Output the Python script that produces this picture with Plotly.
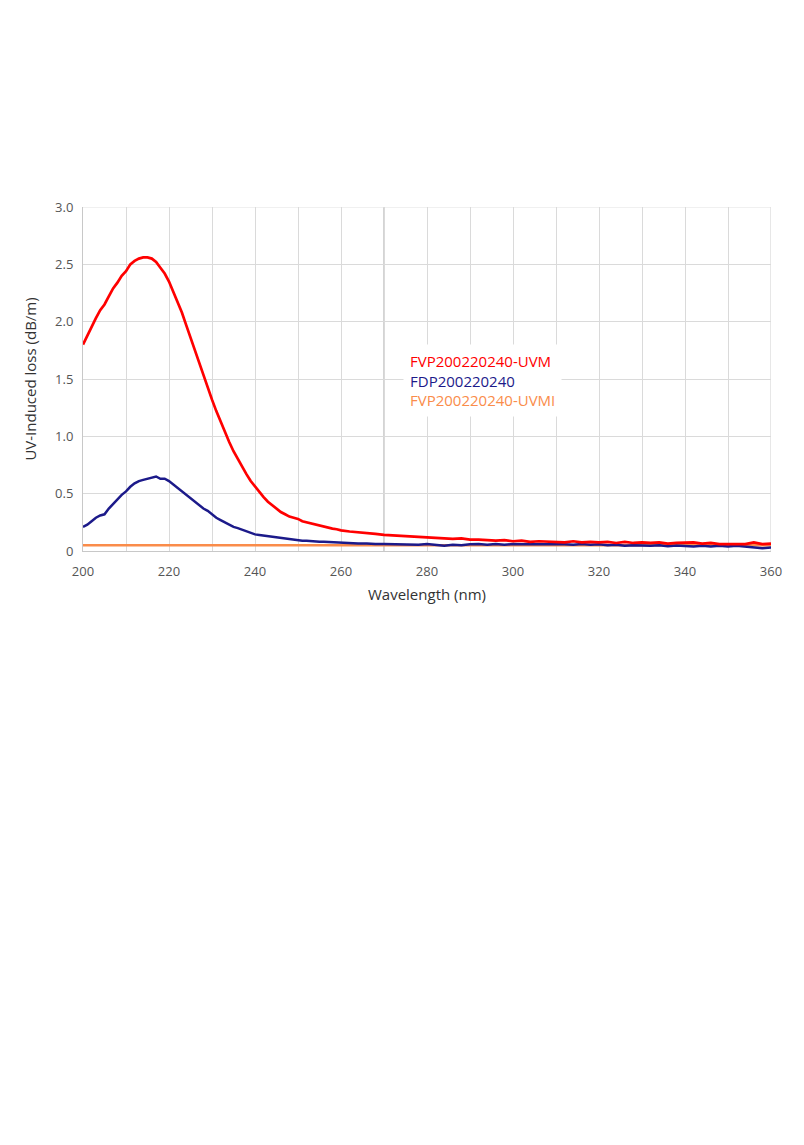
import plotly.graph_objs as go

# wavelengths (nm): 1 nm steps over the peak, 2 nm steps over the tail
wl_peak = list(range(200, 261))
wl_tail = list(range(262, 361, 2))
wavelength = wl_peak + wl_tail

uvm_loss = [
    1.80, 1.88, 1.95, 2.03, 2.10, 2.15, 2.22, 2.29, 2.34, 2.40,
    2.44, 2.50, 2.53, 2.55, 2.56, 2.56, 2.55, 2.52, 2.47, 2.42,
    2.35, 2.26, 2.16, 2.08, 1.97, 1.86, 1.76, 1.64, 1.52, 1.42,
    1.32, 1.22, 1.13, 1.03, 0.95, 0.87, 0.80, 0.73, 0.67, 0.61,
    0.56, 0.51, 0.47, 0.43, 0.40, 0.37, 0.34, 0.32, 0.30, 0.29,
    0.28, 0.26, 0.25, 0.24, 0.23, 0.22, 0.21, 0.20, 0.195, 0.19,
    0.18,
    0.17, 0.165, 0.155, 0.15, 0.14, 0.135, 0.13, 0.125, 0.12, 0.115,
    0.115, 0.11, 0.105, 0.11, 0.10, 0.10, 0.095, 0.09, 0.095, 0.085,
    0.09, 0.08, 0.085, 0.08, 0.08, 0.075, 0.085, 0.075, 0.08, 0.075,
    0.08, 0.07, 0.08, 0.07, 0.075, 0.07, 0.075, 0.065, 0.07, 0.07,
    0.075, 0.065, 0.07, 0.06, 0.06, 0.065, 0.06, 0.075, 0.06, 0.065,
]

fdp_loss = [
    0.21, 0.23, 0.26, 0.29, 0.31, 0.32, 0.37, 0.41, 0.45, 0.49,
    0.52, 0.56, 0.59, 0.61, 0.62, 0.63, 0.64, 0.65, 0.63, 0.63,
    0.61, 0.58, 0.55, 0.52, 0.49, 0.46, 0.43, 0.40, 0.37, 0.35,
    0.32, 0.29, 0.27, 0.25, 0.23, 0.21, 0.20, 0.185, 0.17, 0.155,
    0.145, 0.14, 0.135, 0.13, 0.12, 0.115, 0.11, 0.105, 0.10, 0.095,
    0.095, 0.09, 0.09, 0.085, 0.085, 0.08, 0.08, 0.078, 0.075, 0.073,
    0.07,
    0.068, 0.065, 0.066, 0.06, 0.062, 0.06, 0.058, 0.06, 0.055, 0.06,
    0.05, 0.045, 0.055, 0.05, 0.058, 0.06, 0.055, 0.06, 0.055, 0.06,
    0.058, 0.062, 0.058, 0.06, 0.06, 0.058, 0.055, 0.06, 0.055, 0.058,
    0.05, 0.055, 0.045, 0.05, 0.048, 0.045, 0.05, 0.042, 0.048, 0.045,
    0.04, 0.045, 0.04, 0.045, 0.04, 0.045, 0.04, 0.035, 0.025, 0.03,
]

uvmi_wavelength = [200, 240, 280, 320, 360]
uvmi_loss = [0.05, 0.05, 0.05, 0.05, 0.05]

series_names = ['FVP200220240-UVM', 'FDP200220240', 'FVP200220240-UVMI']
series_colors = ['#ff0000', '#1c1a8a', '#fa8c4a']

x_ticks = [200, 220, 240, 260, 280, 300, 320, 340, 360]
y_ticks = [0, 0.5, 1.0, 1.5, 2.0, 2.5, 3.0]
y_ticktext = ['0', '0.5', '1.0', '1.5', '2.0', '2.5', '3.0']

font_family = 'Open Sans, Lato, sans-serif'
grid_color = '#dadada'

data = [
    go.Scatter(
        name=series_names[2],
        x=uvmi_wavelength,
        y=uvmi_loss,
        mode='lines',
        line=dict(color=series_colors[2], width=2.5),
    ),
    go.Scatter(
        name=series_names[1],
        x=wavelength,
        y=fdp_loss,
        mode='lines',
        line=dict(color=series_colors[1], width=2.5),
    ),
    go.Scatter(
        name=series_names[0],
        x=wavelength,
        y=uvm_loss,
        mode='lines',
        line=dict(color=series_colors[0], width=2.7),
    ),
]

# legend drawn as coloured text lines on a white box, like the original
legend_text = '<br>'.join(
    f'<span style="color:{c}">{n}</span>' for n, c in zip(series_names, series_colors)
)

layout = go.Layout(
    width=804,
    height=1145,
    paper_bgcolor='white',
    plot_bgcolor='white',
    showlegend=False,
    # page body adds 8px, so margins are 8px less than the wanted plot edges
    margin=dict(l=75, r=41, t=199, b=602),
    font=dict(family=font_family, color='#555555', size=13),
    xaxis={
        'title': {'text': 'Wavelength (nm)', 'font': {'size': 15, 'color': '#333333'}, 'standoff': 10},
        'range': [200, 360],
        'tickvals': x_ticks,
        'showgrid': False,
        'zeroline': False,
        'showline': True,
        'linecolor': '#c8c8c8',
        'ticks': '',
        'ticklabelstandoff': 8,
        'tickfont': {'size': 13, 'color': '#555555'},
        'minor': {'dtick': 10, 'showgrid': True, 'gridcolor': grid_color, 'gridwidth': 1},
    },
    yaxis={
        'title': {'text': 'UV-Induced loss (dB/m)', 'font': {'size': 15, 'color': '#333333'}, 'standoff': 14},
        'range': [0, 3.0],
        'tickvals': y_ticks,
        'ticktext': y_ticktext,
        'showgrid': True,
        'gridcolor': grid_color,
        'zeroline': False,
        'showline': True,
        'linecolor': '#c8c8c8',
        'ticks': '',
        'ticklabelstandoff': 6,
        'tickfont': {'size': 13, 'color': '#555555'},
    },
    shapes=[
        dict(type='line', xref='x', yref='paper', x0=270, x1=270, y0=0, y1=1,
             line=dict(color='#a8a8a8', width=1), layer='below'),
        dict(type='line', xref='x', yref='paper', x0=360, x1=360, y0=0, y1=1,
             line=dict(color='#cfcfcf', width=1), layer='below'),
        dict(type='line', xref='paper', yref='y', x0=0, x1=1, y0=3.0, y1=3.0,
             line=dict(color='#e2e2e2', width=1), layer='below'),
    ],
    annotations=[
        dict(
            text=legend_text,
            xref='x', yref='y',
            x=274.5, y=1.49,
            xanchor='left', yanchor='middle',
            align='left',
            showarrow=False,
            bgcolor='white',
            borderpad=6,
            font=dict(family=font_family, size=15),
        ),
    ],
)

fig = go.Figure(data=data, layout=layout)
fig.write_html('out.html')
